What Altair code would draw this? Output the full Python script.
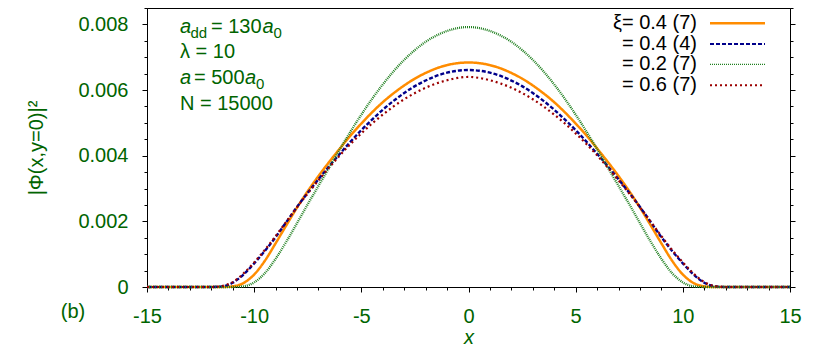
import altair as alt
import pandas as pd

FONT = "Liberation Sans"
GREEN_TXT = "#006400"

# ---- data (y values in units of 1e-3) ----
x_vals = [-15, -14, -13, -12, -11.5, -11, -10.5, -10, -9.5, -9, -8.5, -8, -7.5, -7,
          -6.5, -6, -5.5, -5, -4.5, -4, -3.5, -3, -2.5, -2, -1.5, -1, -0.5, 0,
          0.5, 1, 1.5, 2, 2.5, 3, 3.5, 4, 4.5, 5, 5.5, 6, 6.5, 7, 7.5, 8, 8.5, 9,
          9.5, 10, 10.5, 11, 11.5, 12, 13, 14, 15]

xi04_7 = [0, 0, 0, 0, 0, 0.02, 0.12, 0.38, 0.80, 1.33, 1.88, 2.42, 2.92, 3.38,
          3.81, 4.22, 4.62, 4.98, 5.32, 5.63, 5.90, 6.14, 6.35, 6.52, 6.66, 6.76, 6.82, 6.84,
          6.82, 6.76, 6.66, 6.52, 6.35, 6.14, 5.90, 5.63, 5.32, 4.98, 4.62, 4.22, 3.81, 3.38,
          2.92, 2.42, 1.88, 1.33, 0.80, 0.38, 0.12, 0.02, 0, 0, 0, 0, 0]

xi04_4 = [0, 0, 0, 0, 0.02, 0.13, 0.38, 0.72, 1.10, 1.52, 1.98, 2.44, 2.87, 3.28,
          3.68, 4.06, 4.43, 4.78, 5.10, 5.40, 5.67, 5.91, 6.12, 6.29, 6.43, 6.53, 6.59, 6.61,
          6.59, 6.53, 6.43, 6.29, 6.12, 5.91, 5.67, 5.40, 5.10, 4.78, 4.43, 4.06, 3.68, 3.28,
          2.87, 2.44, 1.98, 1.52, 1.10, 0.72, 0.38, 0.13, 0.02, 0, 0, 0, 0]

xi02_7 = [0, 0, 0, 0, 0, 0, 0.02, 0.14, 0.42, 0.86, 1.38, 1.95, 2.52, 3.08,
          3.64, 4.20, 4.74, 5.25, 5.73, 6.17, 6.57, 6.92, 7.22, 7.47, 7.66, 7.80, 7.89, 7.92,
          7.89, 7.80, 7.66, 7.47, 7.22, 6.92, 6.57, 6.17, 5.73, 5.25, 4.74, 4.20, 3.64, 3.08,
          2.52, 1.95, 1.38, 0.86, 0.42, 0.14, 0.02, 0, 0, 0, 0, 0, 0]

xi06_7 = [0, 0, 0, 0, 0.03, 0.15, 0.41, 0.75, 1.13, 1.55, 1.99, 2.43, 2.85, 3.25,
          3.64, 4.01, 4.36, 4.68, 4.98, 5.25, 5.50, 5.72, 5.91, 6.07, 6.20, 6.30, 6.37, 6.40,
          6.37, 6.30, 6.20, 6.07, 5.91, 5.72, 5.50, 5.25, 4.98, 4.68, 4.36, 4.01, 3.64, 3.25,
          2.85, 2.43, 1.99, 1.55, 1.13, 0.75, 0.41, 0.15, 0.03, 0, 0, 0, 0]

series_keys = ["s1", "s2", "s3", "s4"]
series_labels = ["ξ= 0.4 (7)", "= 0.4 (4)", "= 0.2 (7)", "= 0.6 (7)"]
series_data = [xi04_7, xi04_4, xi02_7, xi06_7]
series_colors = ["#ff8c00", "#00008b", "#1f7f1f", "#9b0000"]
series_dash = [[1, 0], [4, 2], [1, 1], [2, 3]]
series_width = [2.5, 2.2, 1.2, 2.0]

for s in series_data:
    assert len(s) == len(x_vals)

rows = []
for k, vals in zip(series_keys, series_data):
    for xv, yv in zip(x_vals, vals):
        rows.append({"x": xv, "y": yv * 1e-3, "series": k})
df = pd.DataFrame(rows)

x_ticks = list(range(-15, 16))
y_ticks = [round(i * 0.0005, 4) for i in range(18)]

xscale = alt.Scale(domain=[-15, 15], nice=False, zero=False)
yscale = alt.Scale(domain=[0, 0.0085], nice=False)

x_major = "datum.value % 5 === 0"
y_major = "round(datum.value * 10000) % 20 === 0"

common_axis = dict(
    grid=False, domainColor="black", domainWidth=1, tickColor="black", tickWidth=1,
    labelFont=FONT, labelFontSize=20, labelColor=GREEN_TXT, titleFont=FONT,
    titleFontSize=20, titleColor=GREEN_TXT, titleFontWeight="normal",
)

x_bottom = alt.Axis(
    orient="bottom", values=x_ticks, title="x", titleFontStyle="italic",
    tickSize={"condition": {"test": x_major, "value": 5}, "value": 3},
    labelExpr="datum.value % 5 === 0 ? '' + datum.value : ''",
    labelPadding=14, titlePadding=1, labelFlush=False, labelOverlap=False,
    **common_axis,
)
y_left = alt.Axis(
    orient="left", values=y_ticks, title="|Φ(x,y=0)|²",
    tickSize={"condition": {"test": y_major, "value": 5}, "value": 3},
    labelExpr="(round(datum.value * 10000) % 20 === 0) ? (datum.value === 0 ? '0' : format(datum.value, '.3f')) : ''",
    labelPadding=14, titlePadding=31, labelFlush=False, labelOverlap=False,
    **common_axis,
)
x_top = alt.Axis(
    orient="top", values=x_ticks, title=None, labels=False,
    tickSize={"condition": {"test": x_major, "value": 5}, "value": 3},
    grid=False, domainColor="black", domainWidth=1, tickColor="black", tickWidth=1,
)
y_right = alt.Axis(
    orient="right", values=y_ticks, title=None, labels=False,
    tickSize={"condition": {"test": y_major, "value": 5}, "value": 3},
    grid=False, domainColor="black", domainWidth=1, tickColor="black", tickWidth=1,
)

lines = alt.Chart(df).mark_line(interpolate="monotone").encode(
    x=alt.X("x:Q", scale=xscale, axis=x_bottom),
    y=alt.Y("y:Q", scale=yscale, axis=y_left),
    color=alt.Color("series:N", scale=alt.Scale(domain=series_keys, range=series_colors), legend=None),
    strokeDash=alt.StrokeDash("series:N", scale=alt.Scale(domain=series_keys, range=series_dash), legend=None),
    strokeWidth=alt.StrokeWidth("series:N", scale=alt.Scale(domain=series_keys, range=series_width), legend=None),
)

mirror = alt.Chart(df).mark_point(opacity=0).encode(
    x=alt.X("x:Q", scale=xscale, axis=x_top),
    y=alt.Y("y:Q", scale=yscale, axis=y_right),
)

one = pd.DataFrame({"k": [0]})


def txt(s, x, y, size=20, style="normal", color=GREEN_TXT, align="left", baseline="alphabetic", angle=0):
    return alt.Chart(one).mark_text(
        text=s, fontSize=size, fontStyle=style, color=color, align=align,
        baseline=baseline, font=FONT, angle=angle,
    ).encode(x=alt.value(x), y=alt.value(y))


def seg(x1, x2, y, color, dash, width):
    return alt.Chart(one).mark_rule(color=color, strokeDash=dash, strokeWidth=width).encode(
        x=alt.value(x1), x2=alt.value(x2), y=alt.value(y)
    )


layers = [lines, mirror]

# legend (labels left of samples)
leg_y = [15.3, 36.0, 56.3, 77.3]
for lab, c, d, w, yy in zip(series_labels, series_colors, series_dash, series_width, leg_y):
    layers.append(txt(lab, 550, yy, color="black", align="right", baseline="middle"))
    layers.append(seg(563, 618, yy, c, d, w))

# parameter annotations
layers += [
    txt("a", 33, 24.5, style="italic"),
    txt("dd", 43.5, 29.5, size=15),
    txt("= 130", 64, 24.5),
    txt("a", 115.5, 24.5, style="italic"),
    txt("0", 126.5, 29.5, size=15),
    txt("λ = 10", 33, 50),
    txt("a", 33, 75.5, style="italic"),
    txt("= 500", 47, 75.5),
    txt("a", 98, 75.5, style="italic"),
    txt("0", 109, 80.5, size=15),
    txt("N = 15000", 33, 102),
    txt("(b)", -74, 304, align="center", baseline="middle"),
]

chart = alt.layer(*layers).resolve_axis(x="independent", y="independent").properties(
    width=643, height=279,
    autosize=alt.AutoSizeParams(type="none"),
    padding={"left": 139, "top": 0, "right": 20, "bottom": 61},
).configure_view(stroke=None).configure(background="white")

chart.save("out.html", embed_options={"renderer": "svg", "actions": False})
